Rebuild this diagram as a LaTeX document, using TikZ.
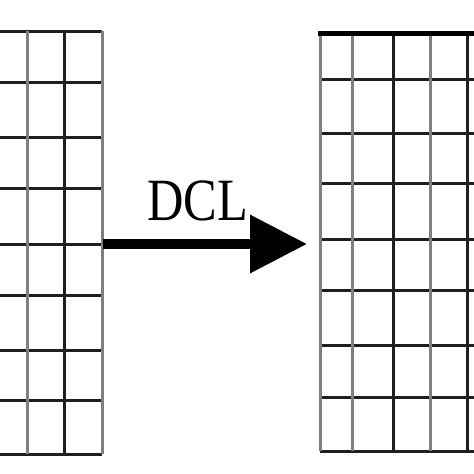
\documentclass[tikz,border=0pt]{standalone}
\usepackage{fontspec}
\setmainfont{Liberation Serif}
\usetikzlibrary{arrows.meta}
\begin{document}
\begin{tikzpicture}[x=1pt,y=-1pt,
  darkline/.style={line width=3pt,draw=black!88},
  lightline/.style={line width=3pt,draw=black!50},
  topline/.style={line width=5pt,draw=black},
  bigarrow/.style={line width=10pt,draw=black,-{Triangle[length=57pt,width=56pt]}},
  lbl/.style={font=\fontsize{60}{60}\selectfont,xscale=0.84,inner sep=0pt}]
\useasboundingbox (0,0) rectangle (474,474);
% left grid
\foreach \y in {31,82,137,188,244,295,350,400,454}
  \draw[darkline] (-5,\y) -- (102,\y);
\draw[lightline] (27,31) -- (27,454);
\draw[darkline] (64,31) -- (64,454);
\draw[lightline] (102,31) -- (102,454);
% right grid
\foreach \y in {79,133,183,239,290,345,397,451}
  \draw[darkline] (320,\y) -- (480,\y);
\draw[lightline] (320,33) -- (320,451);
\draw[lightline] (352,33) -- (352,451);
\draw[darkline] (393,33) -- (393,451);
\draw[lightline] (430,33) -- (430,451);
\draw[darkline] (467,33) -- (467,451);
\draw[topline] (318,33) -- (480,33);
% arrow
\coordinate (src) at (103,244);
\coordinate (dst) at (307,244);
\draw[bigarrow] (src) -- (dst);
\node[lbl,anchor=base] (dcl) at (198,220) {DCL};
\end{tikzpicture}
\end{document}
